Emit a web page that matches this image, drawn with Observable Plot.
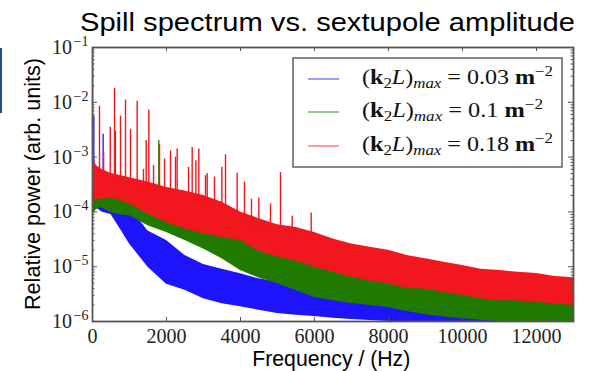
<!DOCTYPE html>
<html><head><meta charset="utf-8">
<script src="https://cdn.jsdelivr.net/npm/d3@7"></script>
<script src="https://cdn.jsdelivr.net/npm/@observablehq/plot@0.6"></script>
<style>
body{margin:0;background:#fff;}
#wrap{position:relative;width:593px;height:371px;overflow:hidden;background:#fff;}
#bar{position:absolute;left:0;top:48px;width:2px;height:65px;background:#1f4e8c;}
#chart{position:absolute;left:0;top:0;}
</style></head><body>
<div id="wrap"><div id="chart"></div><div id="bar"></div></div>
<script>
// ---- data ----
const freq   = [0,100,250,500,750,1000,1500,2000,2500,3000,3500,4000,4500,5000,5500,6000,6500,7000,7500,8000,8500,9000,9500,10000,10500,11000,11500,12000,12500,13000];
const redHi  = [1.1e-3,7e-4,6e-4,5e-4,4.6e-4,4.2e-4,3.5e-4,2.8e-4,2.4e-4,2.0e-4,1.5e-4,1.0e-4,7.5e-5,5.8e-5,5.2e-5,4.2e-5,3.2e-5,2.6e-5,2.26e-5,2.0e-5,1.6e-5,1.4e-5,1.2e-5,1.05e-5,9.0e-6,8.5e-6,7.9e-6,7.5e-6,6.6e-6,6.3e-6];
const redLo  = [1.6e-4,1.7e-4,1.7e-4,1.8e-4,1.6e-4,1.4e-4,9.2e-5,6.4e-5,4.9e-5,4.0e-5,3.4e-5,3.0e-5,1.9e-5,1.5e-5,1.27e-5,9.8e-6,7.9e-6,6.4e-6,5.5e-6,4.9e-6,4.0e-6,3.9e-6,3.4e-6,3.0e-6,2.6e-6,2.4e-6,2.4e-6,2.25e-6,2.1e-6,1.96e-6];
const greenHi= [4e-4,3.5e-4,3.0e-4,2.5e-4,2.2e-4,1.97e-4,1.3e-4,8.5e-5,7.0e-5,5.6e-5,4.6e-5,3.7e-5,2.86e-5,2.2e-5,1.53e-5,1.19e-5,1.0e-5,8.5e-6,7.2e-6,6.1e-6,5.6e-6,5.4e-6,4.7e-6,4.4e-6,4.0e-6,3.67e-6,3.4e-6,3.1e-6,2.9e-6,2.73e-6];
const greenLo= [8.5e-5,1.1e-4,1.2e-4,9.7e-5,8.8e-5,8.5e-5,5.6e-5,4.2e-5,3.0e-5,2.1e-5,1.4e-5,8.5e-6,6.2e-6,4.9e-6,3.67e-6,2.73e-6,2.4e-6,2.13e-6,1.96e-6,1.8e-6,1.52e-6,1.33e-6,1.21e-6,1.12e-6,1.05e-6,1.0e-6,1.0e-6,1.0e-6,1.0e-6,1.0e-6];
const blueHi = [3.5e-4,3.0e-4,2.6e-4,2.0e-4,1.6e-4,1.2e-4,4.5e-5,3.0e-5,1.6e-5,1.1e-5,9.0e-6,7.4e-6,6.0e-6,5.2e-6,4.4e-6,3.8e-6,3.4e-6,3.0e-6,2.7e-6,2.5e-6,2.1e-6,1.8e-6,1.6e-6,1.4e-6,1.3e-6,1.23e-6,1.15e-6,1.09e-6,1.05e-6,1.03e-6];
const blueLo = [1.4e-4,1.2e-4,1.0e-4,9.0e-5,4.9e-5,2.6e-5,9.8e-6,4.8e-6,3.7e-6,2.6e-6,2.1e-6,1.85e-6,1.6e-6,1.4e-6,1.3e-6,1.23e-6,1.15e-6,1.09e-6,1.04e-6,1e-6,1e-6,1e-6,1e-6,1e-6,1e-6,1e-6,1e-6,1e-6,1e-6,1e-6];

// narrow spectral lines: frequency, value at band, peak value
const redSpikeF    = [0,189,300,480,595,757,892,1027,1207,1378,1451,1523,1650,1811,1946,2108,2243,2288,2595,2694,2793,2874,3054,3100,3297,3495,3595,3910,4108,4297,4495,4811,5081,5397,5910];
const redSpikeBase = [1e-3,5e-4,5e-4,4e-4,4e-4,4e-4,4e-4,3.5e-4,3e-4,3e-4,3e-4,3e-4,2.5e-4,2.5e-4,2.2e-4,2.2e-4,2.2e-4,2.2e-4,1.8e-4,1.8e-4,1.7e-4,1.7e-4,1.5e-4,1.5e-4,1.3e-4,1.2e-4,1.1e-4,8e-5,7e-5,5e-5,5e-5,4.5e-5,4e-5,3.5e-5,3e-5];
const redSpikeV    = [1e-1,8.5e-3,1.2e-3,3.5e-3,1.8e-2,5.6e-3,1.1e-2,3.2e-3,1.05e-2,6e-4,2.0e-3,7.2e-3,7e-4,1.7e-3,9.2e-4,1.3e-3,1.0e-3,1.4e-3,6.5e-4,1.5e-3,8.6e-4,1.4e-3,4.6e-4,5.0e-4,4.3e-4,6.5e-4,1.1e-3,5.1e-4,3.5e-4,1.7e-4,1.8e-4,1.4e-4,5.2e-4,8.3e-5,9.5e-5];
const greenSpikeF    = [620,1792];
const greenSpikeBase = [3e-4,1.2e-4];
const greenSpikeV    = [3.0e-3,2.0e-3];
const blueSpikeF     = [36,288];
const blueSpikeBase  = [3e-4,2.5e-4];
const blueSpikeV     = [5.6e-3,2.6e-3];

const xTicks = [0,2000,4000,6000,8000,10000,12000];
const yTicks = [1e-6,1e-5,1e-4,1e-3,1e-2,1e-1];
const yExpLabels = ["\u22126","\u22125","\u22124","\u22123","\u22122","\u22121"];
const seriesK = ["0.03","0.1","0.18"];
const seriesColors = ["#1d14fb","#217a00","#f2161f"];
const legendColors = ["#6a6aff","#5aae5a","#ff6a6a"];

// ---- build ----
const W=593,H=371,mL=92,mR=20,mT=47,mB=50;
const innerW=W-mL-mR, innerH=H-mT-mB;
const band=(hi,lo)=>freq.map((f,i)=>({f,hi:hi[i],lo:lo[i]}));
const spikes=(F,B,V)=>F.map((f,i)=>({f,base:B[i],v:V[i]}));
const minor=[];
for(let k=-6;k<=-2;k++) for(let m=2;m<=9;m++) minor.push(m*Math.pow(10,k));
const [BLUE,GREEN,RED]=seriesColors;
const AX="#555";

const plot=Plot.plot({
  width:W,height:H,marginLeft:mL,marginRight:mR,marginTop:mT,marginBottom:mB,
  x:{domain:[0,13000],axis:null},
  y:{type:"log",domain:[1e-6,1e-1],axis:null},
  style:{background:"white",overflow:"visible"},
  marks:[
    Plot.areaY(band(blueHi,blueLo),{x:"f",y1:"lo",y2:"hi",fill:BLUE,clip:true}),
    Plot.ruleX(spikes(blueSpikeF,blueSpikeBase,blueSpikeV),{x:"f",y1:"base",y2:"v",stroke:BLUE,strokeWidth:1.3,clip:true}),
    Plot.areaY(band(greenHi,greenLo),{x:"f",y1:"lo",y2:"hi",fill:GREEN,clip:true}),
    Plot.ruleX(spikes(greenSpikeF,greenSpikeBase,greenSpikeV),{x:"f",y1:"base",y2:"v",stroke:GREEN,strokeWidth:1.3,clip:true}),
    Plot.areaY(band(redHi,redLo),{x:"f",y1:"lo",y2:"hi",fill:RED,clip:true}),
    Plot.ruleX(spikes(redSpikeF,redSpikeBase,redSpikeV),{x:"f",y1:"base",y2:"v",stroke:RED,strokeWidth:1.4,clip:true}),
    Plot.tickX(xTicks,{x:d=>d,insetTop:innerH-4,stroke:AX}),
    Plot.tickX(xTicks,{x:d=>d,insetBottom:innerH-4,stroke:AX}),
    Plot.tickY(yTicks,{y:d=>d,insetRight:innerW-5,stroke:AX}),
    Plot.tickY(yTicks,{y:d=>d,insetLeft:innerW-5,stroke:AX}),
    Plot.tickY(minor,{y:d=>d,insetRight:innerW-2.5,stroke:AX}),
    Plot.tickY(minor,{y:d=>d,insetLeft:innerW-2.5,stroke:AX}),
    Plot.frame({stroke:AX,strokeWidth:1.8}),
    Plot.text(xTicks,{x:d=>d,text:d=>String(d),frameAnchor:"bottom",lineAnchor:"top",dy:7,fontSize:20,fontFamily:"Liberation Serif",fill:"#222"}),
    Plot.text(yTicks,{y:d=>d,text:()=>"10",frameAnchor:"left",textAnchor:"end",dx:-20.6,fontSize:20,fontFamily:"Liberation Serif",fill:"#222"}),
    Plot.text(yTicks,{y:d=>d,text:(d,i)=>yExpLabels[i],frameAnchor:"left",textAnchor:"end",dx:-4,dy:-6,fontSize:14,fontFamily:"Liberation Serif",fill:"#222"})
  ]
});
document.getElementById("chart").appendChild(plot);

const svg=d3.select(plot);
// title
svg.append("text").attr("x",80).attr("y",30.5).attr("text-anchor","start").attr("font-family","Liberation Sans, Arial, sans-serif")
  .attr("font-size",25.5).attr("fill","#000").attr("textLength",495).attr("lengthAdjust","spacingAndGlyphs")
  .text("Spill spectrum vs. sextupole amplitude");
// y label
svg.append("text").attr("transform","translate(40,184) rotate(-90)").attr("text-anchor","middle")
  .attr("font-family","Liberation Sans, Arial, sans-serif").attr("font-size",21.5).attr("fill","#000")
  .attr("textLength",252).attr("lengthAdjust","spacingAndGlyphs").text("Relative power (arb. units)");
// x label
svg.append("text").attr("x",252.3).attr("y",366).attr("text-anchor","start").attr("font-family","Liberation Sans, Arial, sans-serif")
  .attr("font-size",21.5).attr("fill","#000").attr("textLength",158).attr("lengthAdjust","spacingAndGlyphs")
  .text("Frequency / (Hz)");

// legend
const lg=svg.append("g");
lg.append("rect").attr("x",293).attr("y",58).attr("width",269).attr("height",109)
  .attr("fill","white").attr("stroke",AX).attr("stroke-width",1.4);
const rowY=[79,112,146];
const rowLen=[191,181,191];
seriesK.forEach((k,i)=>{
  const y=rowY[i];
  lg.append("line").attr("x1",308).attr("x2",339).attr("y1",y).attr("y2",y)
    .attr("stroke",legendColors[i]).attr("stroke-width",1.3);
  const t=lg.append("text").attr("x",362).attr("y",y+5).attr("text-anchor","start").attr("font-family","Liberation Serif, serif")
    .attr("font-size",20).attr("fill","#111").attr("textLength",rowLen[i]).attr("lengthAdjust","spacingAndGlyphs");
  t.append("tspan").text("(");
  t.append("tspan").attr("font-weight","bold").text("k");
  t.append("tspan").attr("font-size",14).attr("dy",4).text("2");
  t.append("tspan").attr("font-style","italic").attr("dy",-4).text("L");
  t.append("tspan").text(")");
  t.append("tspan").attr("font-size",14).attr("font-style","italic").attr("dy",4).text("max");
  t.append("tspan").attr("dy",-4).text(" = "+k+" ");
  t.append("tspan").attr("font-weight","bold").text("m");
  t.append("tspan").attr("font-size",14).attr("dy",-8).text("\u22122");
});
</script></body></html>
